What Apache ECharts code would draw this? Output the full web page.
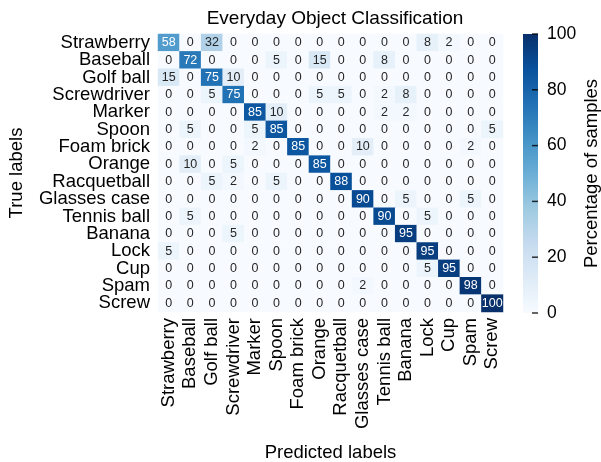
<!DOCTYPE html>
<html>
<head>
<meta charset="utf-8">
<script src="https://cdn.jsdelivr.net/npm/echarts@6/dist/echarts.min.js"></script>
<style>
  html, body { margin: 0; padding: 0; background: #ffffff; }
  #chart { width: 601px; height: 462px; }
</style>
</head>
<body>
<div id="chart"></div>
<script>
// Object classes (same order for true and predicted)
const labels = ['Strawberry', 'Baseball', 'Golf ball', 'Screwdriver', 'Marker', 'Spoon',
  'Foam brick', 'Orange', 'Racquetball', 'Glasses case', 'Tennis ball', 'Banana',
  'Lock', 'Cup', 'Spam', 'Screw'];

// Percentage of samples: one row per true label, one column per predicted label
const strawberry  = [58, 0, 32, 0, 0, 0, 0, 0, 0, 0, 0, 0, 8, 2, 0, 0];
const baseball    = [0, 72, 0, 0, 0, 5, 0, 15, 0, 0, 8, 0, 0, 0, 0, 0];
const golfBall    = [15, 0, 75, 10, 0, 0, 0, 0, 0, 0, 0, 0, 0, 0, 0, 0];
const screwdriver = [0, 0, 5, 75, 0, 0, 0, 5, 5, 0, 2, 8, 0, 0, 0, 0];
const marker      = [0, 0, 0, 0, 85, 10, 0, 0, 0, 0, 2, 2, 0, 0, 0, 0];
const spoon       = [0, 5, 0, 0, 5, 85, 0, 0, 0, 0, 0, 0, 0, 0, 0, 5];
const foamBrick   = [0, 0, 0, 0, 2, 0, 85, 0, 0, 10, 0, 0, 0, 0, 2, 0];
const orange      = [0, 10, 0, 5, 0, 0, 0, 85, 0, 0, 0, 0, 0, 0, 0, 0];
const racquetball = [0, 0, 5, 2, 0, 5, 0, 0, 88, 0, 0, 0, 0, 0, 0, 0];
const glassesCase = [0, 0, 0, 0, 0, 0, 0, 0, 0, 90, 0, 5, 0, 0, 5, 0];
const tennisBall  = [0, 5, 0, 0, 0, 0, 0, 0, 0, 0, 90, 0, 5, 0, 0, 0];
const banana      = [0, 0, 0, 5, 0, 0, 0, 0, 0, 0, 0, 95, 0, 0, 0, 0];
const lock        = [5, 0, 0, 0, 0, 0, 0, 0, 0, 0, 0, 0, 95, 0, 0, 0];
const cup         = [0, 0, 0, 0, 0, 0, 0, 0, 0, 0, 0, 0, 5, 95, 0, 0];
const spam        = [0, 0, 0, 0, 0, 0, 0, 0, 0, 2, 0, 0, 0, 0, 98, 0];
const screw       = [0, 0, 0, 0, 0, 0, 0, 0, 0, 0, 0, 0, 0, 0, 0, 100];

const matrix = [strawberry, baseball, golfBall, screwdriver, marker, spoon, foamBrick,
  orange, racquetball, glassesCase, tennisBall, banana, lock, cup, spam, screw];

// Colour scale range and colourbar ticks
const scaleMin = 0;
const scaleMax = 100;
const scaleStep = 20;
const colourbarTicks = [0, 20, 40, 60, 80, 100];

const blues = ['#f7fbff', '#deebf7', '#c6dbef', '#9ecae1', '#6baed6',
  '#4292c6', '#2171b5', '#08519c', '#08306b'];

const FONT = 'Liberation Sans, Arial, sans-serif';
const LABEL_SIZE = 18.5;

const cells = [];
matrix.forEach((row, r) => {
  row.forEach((v, c) => {
    cells.push({
      value: [c, r, v],
      label: { color: v >= 45 ? '#ffffff' : '#262626' }
    });
  });
});

// Colourbar fill: the same ramp as the heatmap, bottom (min) to top (max)
const barGradient = new echarts.graphic.LinearGradient(0, 1, 0, 0,
  blues.map((c, i) => ({ offset: i / (blues.length - 1), color: c })));

const chart = echarts.init(document.getElementById('chart'), null, { renderer: 'canvas' });

chart.setOption({
  backgroundColor: '#ffffff',
  animation: false,
  title: {
    text: 'Everyday Object Classification',
    left: 330, top: 4, textAlign: 'center',
    textStyle: { fontFamily: FONT, fontSize: 19, fontWeight: 'normal', color: '#000' }
  },
  grid: [
    { left: 158, top: 34, width: 345, height: 278, outerBoundsMode: 'none', containLabel: false },
    { left: 523, top: 34, width: 15, height: 279, show: true, borderWidth: 0,
      backgroundColor: barGradient, outerBoundsMode: 'none', containLabel: false }
  ],
  xAxis: [
    {
      gridIndex: 0, type: 'category', data: labels, position: 'bottom',
      axisLine: { show: false }, axisTick: { show: false }, splitLine: { show: false },
      axisLabel: { rotate: 90, interval: 0, fontFamily: FONT, fontSize: LABEL_SIZE, color: '#000', margin: 6 },
      name: 'Predicted labels', nameLocation: 'middle', nameGap: 131,
      nameTextStyle: { fontFamily: FONT, fontSize: LABEL_SIZE, color: '#000' }
    },
    { gridIndex: 1, type: 'value', show: false, min: 0, max: 1 }
  ],
  yAxis: [
    {
      gridIndex: 0, type: 'category', data: labels, inverse: true,
      axisLine: { show: false }, axisTick: { show: false }, splitLine: { show: false },
      axisLabel: { interval: 0, fontFamily: FONT, fontSize: LABEL_SIZE, color: '#000', margin: 8 },
      name: 'True labels', nameLocation: 'middle', nameGap: 132, nameRotate: 90,
      nameTextStyle: { fontFamily: FONT, fontSize: LABEL_SIZE, color: '#000' }
    },
    {
      gridIndex: 1, type: 'value', position: 'right',
      min: scaleMin, max: scaleMax, interval: scaleStep,
      axisLine: { show: false, onZero: false }, splitLine: { show: false },
      axisTick: { show: false },
      axisLabel: { fontFamily: FONT, fontSize: 17.5, color: '#000', margin: 9 },
      name: 'Percentage of samples', nameLocation: 'middle', nameGap: 44, nameRotate: 90,
      nameTextStyle: { fontFamily: FONT, fontSize: LABEL_SIZE, color: '#000' }
    }
  ],
  visualMap: {
    type: 'continuous', seriesIndex: 0, show: false,
    min: scaleMin, max: scaleMax,
    inRange: { color: blues }
  },
  series: [
    {
      type: 'heatmap', xAxisIndex: 0, yAxisIndex: 0,
      data: cells,
      label: { show: true, fontFamily: FONT, fontSize: 12.5, formatter: p => String(p.value[2]) },
      itemStyle: { borderWidth: 0 }
    },
    {
      // short black tick marks on the colourbar's right edge
      type: 'scatter', xAxisIndex: 1, yAxisIndex: 1, silent: true, clip: false,
      data: colourbarTicks.map(v => [1, v]),
      symbol: 'rect', symbolSize: [6, 1.5], symbolOffset: [-3, 0],
      itemStyle: { color: '#000' }
    }
  ]
});
</script>
</body>
</html>
